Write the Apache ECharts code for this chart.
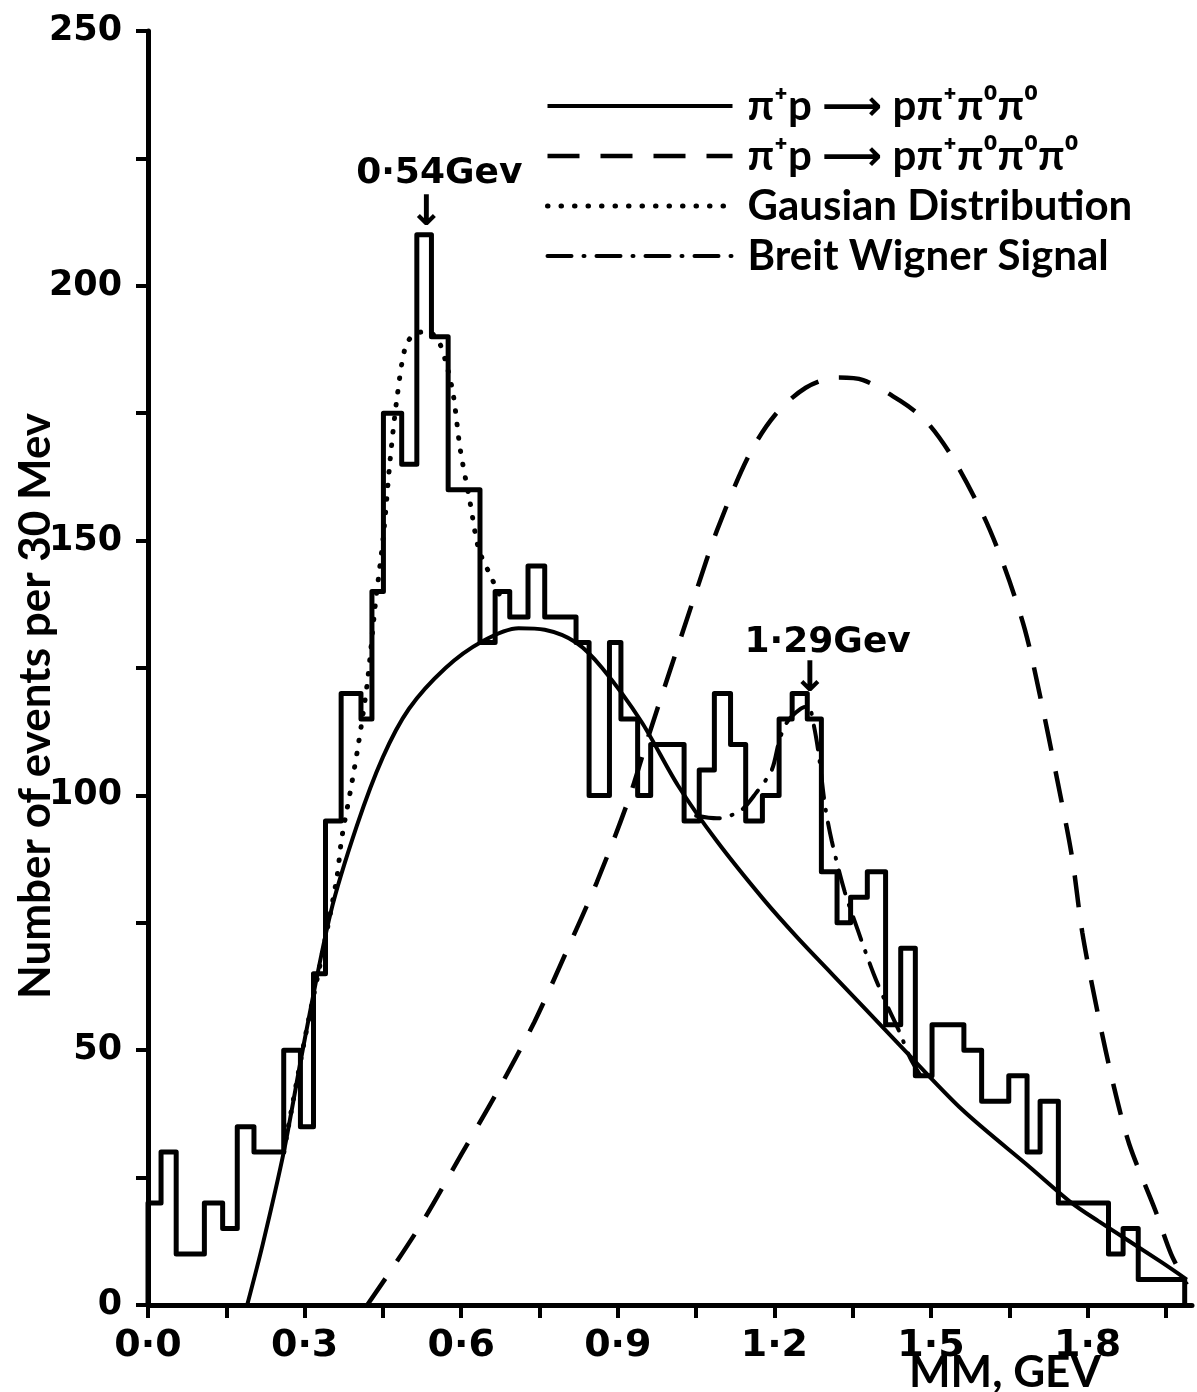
<!DOCTYPE html>
<html>
<head>
<meta charset="utf-8">
<script src="https://cdn.jsdelivr.net/npm/echarts@6/dist/echarts.min.js"></script>
<style>
  html, body { margin: 0; padding: 0; background: #ffffff; }
  #chart { width: 1197px; height: 1392px; }
</style>
</head>
<body>
<div id="chart"></div>
<script>
// ---------------- data ----------------
// Histogram: start edge (GeV) of each flat run of the step outline, and its count
const histEdges = [0, 0.025, 0.054, 0.108, 0.143, 0.171, 0.203, 0.260, 0.292, 0.317,
  0.340, 0.370, 0.408, 0.429, 0.451, 0.486, 0.515, 0.543, 0.575, 0.636,
  0.665, 0.693, 0.728, 0.760, 0.820, 0.845, 0.884, 0.906, 0.938, 0.963,
  1.027, 1.056, 1.085, 1.116, 1.145, 1.177, 1.209, 1.234, 1.263, 1.290,
  1.320, 1.346, 1.378, 1.413, 1.442, 1.470, 1.502, 1.563, 1.597, 1.649,
  1.684, 1.709, 1.744, 1.840, 1.868, 1.897, 1.986];
const histCounts = [20, 30, 10, 20, 15, 35, 30, 50, 35, 65,
  95, 120, 115, 140, 175, 165, 210, 190, 160, 130,
  140, 135, 145, 135, 130, 100, 130, 115, 100, 110,
  95, 105, 120, 110, 95, 100, 115, 120, 115, 85,
  75, 80, 85, 55, 70, 45, 55, 50, 40, 45,
  30, 40, 20, 10, 15, 5];

// pi+ p -> p pi+ pi0 pi0 (solid)
const solidX = [0.19, 0.22, 0.26, 0.30, 0.35, 0.40, 0.45, 0.50, 0.57, 0.64, 0.71, 0.76, 0.82, 0.87,
  0.945, 1.015, 1.09, 1.18, 1.245, 1.31, 1.44, 1.56, 1.69, 1.77, 1.82, 1.94, 1.99];
const solidY = [0, 12, 30, 52, 77, 94, 107.5, 117, 125, 130.2, 132.8, 132.5, 130, 125,
  114.5, 102, 91, 79.5, 72, 65, 51, 38.3, 27, 20, 16.5, 8.5, 5];

// pi+ p -> p pi+ pi0 pi0 pi0 (dashed)
const dashX = [0.42, 0.47, 0.53, 0.60, 0.67, 0.74, 0.80, 0.86, 0.92, 0.96, 1.00, 1.05, 1.09, 1.15,
  1.20, 1.26, 1.32, 1.37, 1.44, 1.49, 1.54, 1.60, 1.64, 1.68, 1.71, 1.74, 1.77, 1.79, 1.82,
  1.85, 1.88, 1.93, 1.96, 1.99];
const dashY = [0, 7.5, 17, 29.5, 42, 55.5, 69, 83, 99, 112, 124.5, 140, 152, 166.5,
  174.5, 180, 182, 181.5, 177.5, 173.5, 166.5, 155, 145, 132.5, 119, 104, 88, 73, 57,
  43, 31.5, 18.5, 10, 4];

// Gaussian distribution (dotted)
const gausX = [0.26, 0.30, 0.34, 0.362, 0.371, 0.388, 0.403, 0.42, 0.435, 0.451, 0.464, 0.477,
  0.493, 0.51, 0.535, 0.555, 0.572, 0.585, 0.598, 0.617, 0.633, 0.652, 0.68];
const gausY = [30, 52, 72, 84, 91.5, 101, 110, 122, 137, 151, 166, 178,
  188, 190.5, 191, 189.5, 184.5, 178.5, 168, 157.5, 148.5, 144, 138];

// Breit Wigner signal (dash-dot)
const bwX = [1.05, 1.09, 1.135, 1.165, 1.195, 1.21, 1.225, 1.25, 1.265, 1.275, 1.285, 1.297,
  1.31, 1.335, 1.36, 1.39, 1.415, 1.44, 1.46, 1.48];
const bwY = [96, 95.5, 97, 100.5, 105, 111, 114.5, 117, 117.5, 114, 108, 98,
  91, 81, 73.5, 65, 59, 53.5, 48.5, 45];

// axis ticks and labels
const xTicks = [0, 0.15, 0.3, 0.45, 0.6, 0.75, 0.9, 1.05, 1.2, 1.35, 1.5, 1.65, 1.8, 1.95];
const xTickLabels = [0, 0.3, 0.6, 0.9, 1.2, 1.5, 1.8];
const yTicks = [0, 25, 50, 75, 100, 125, 150, 175, 200, 225, 250];
const yTickLabels = [0, 50, 100, 150, 200, 250];

const seriesNames = ['π⁺p ⟶ pπ⁺π⁰π⁰', 'π⁺p ⟶ pπ⁺π⁰π⁰π⁰', 'Gausian Distribution', 'Breit Wigner Signal'];
const peakNotes = ['0·54Gev', '1·29Gev'];

// ---------------- build ----------------
const zip = (xs, ys) => xs.map((x, i) => [x, ys[i]]);

const histData = [[histEdges[0], 0]];
histCounts.forEach((c, i) => histData.push([histEdges[i], c]));
histData.push([histEdges[histEdges.length - 1], histCounts[histCounts.length - 1]]);
histData.push([histEdges[histEdges.length - 1], 0]);

const numFont = '"DejaVu Sans", sans-serif';
const textFont = 'Lato, "DejaVu Sans", sans-serif';
const black = '#000000';

const chart = echarts.init(document.getElementById('chart'), null, { renderer: 'canvas' });

const curve = (name, xs, ys, lineStyle) => ({
  name, type: 'line', data: zip(xs, ys), symbol: 'none', smooth: 0.3,
  lineStyle: Object.assign({ color: black }, lineStyle), itemStyle: { color: black },
  z: 3, silent: true
});

const noteLabel = (text, size) => ({
  show: true, position: 'inside', formatter: text, color: black,
  fontFamily: numFont, fontWeight: 'bold', fontSize: size
});

chart.setOption({
  animation: false,
  backgroundColor: '#ffffff',
  grid: { left: 148, right: 5, top: 31, bottom: 87, containLabel: false },
  xAxis: {
    type: 'value', min: 0, max: 2.0,
    axisLine: { show: true, onZero: false, lineStyle: { color: black, width: 5 } },
    axisTick: { show: true, inside: false, length: 13, customValues: xTicks,
      lineStyle: { color: black, width: 4 } },
    axisLabel: { show: true, customValues: xTickLabels, margin: 22,
      formatter: v => v.toFixed(1).replace('.', '·'),
      color: black, fontFamily: numFont, fontWeight: 'bold', fontSize: 38 },
    splitLine: { show: false }
  },
  yAxis: {
    type: 'value', min: 0, max: 250,
    axisLine: { show: true, onZero: false, lineStyle: { color: black, width: 5 } },
    axisTick: { show: true, inside: false, length: 12, customValues: yTicks,
      lineStyle: { color: black, width: 4 } },
    axisLabel: { show: true, customValues: yTickLabels, margin: 26,
      color: black, fontFamily: numFont, fontWeight: 'bold', fontSize: 35 },
    splitLine: { show: false }
  },
  legend: {
    orient: 'vertical', left: 540, top: 80, itemWidth: 185, itemHeight: 14, itemGap: 8,
    selectedMode: false, data: seriesNames,
    itemStyle: { opacity: 0 },
    lineStyle: { width: 'inherit' },
    textStyle: { color: black, fontFamily: textFont, fontWeight: 'bold', fontSize: 42,
      padding: [0, 0, 0, 10] }
  },
  graphic: [
    { type: 'text', x: 36, y: 706, rotation: Math.PI / 2,
      style: { text: 'Number of events per 30 Mev', fill: black, font: 'bold 44px ' + textFont,
        align: 'center', verticalAlign: 'middle' } },
    { type: 'text', x: 1005, y: 1373,
      style: { text: 'MM, GEV', fill: black, font: 'bold 44px ' + textFont,
        align: 'center', verticalAlign: 'middle' } }
  ],
  series: [
    {
      name: 'histogram', type: 'line', data: histData, step: 'end', symbol: 'none',
      lineStyle: { color: black, width: 5, join: 'round' }, itemStyle: { color: black },
      z: 4, silent: true,
      markPoint: {
        symbol: 'circle', symbolSize: 1, itemStyle: { color: 'rgba(0,0,0,0)' }, silent: true,
        data: [
          { coord: [0.558, 222], label: noteLabel(peakNotes[0], 36) },
          { coord: [0.533, 214], label: noteLabel('↓', 42) },
          { coord: [1.302, 130], label: noteLabel(peakNotes[1], 36) },
          { coord: [1.268, 122.6], label: noteLabel('↓', 42) }
        ]
      }
    },
    curve(seriesNames[0], solidX, solidY, { width: 4, type: 'solid' }),
    curve(seriesNames[1], dashX, dashY, { width: 4.5, type: [32, 21] }),
    curve(seriesNames[2], gausX, gausY, { width: 5, type: [0.5, 13], cap: 'round' }),
    curve(seriesNames[3], bwX, bwY, { width: 4, type: [24, 12, 1, 12], cap: 'round' })
  ]
});
</script>
</body>
</html>
